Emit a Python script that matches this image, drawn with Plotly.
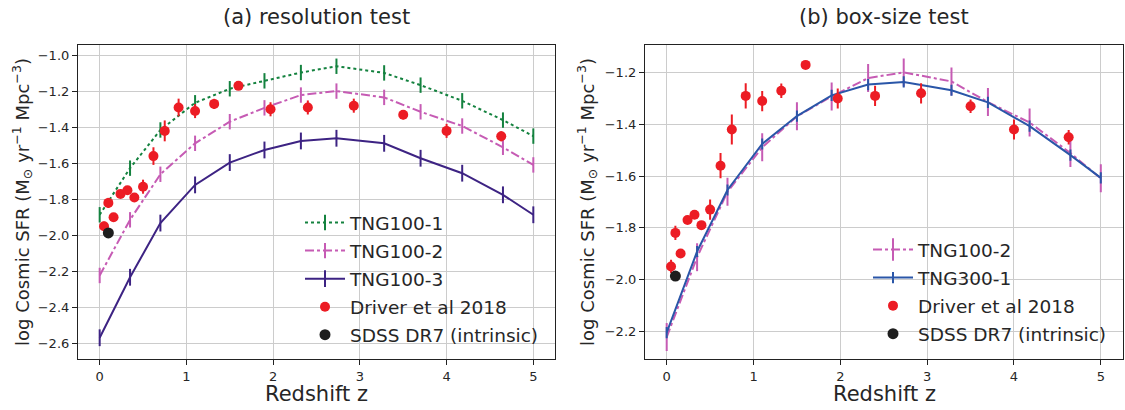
import plotly.graph_objects as go

# redshifts of the simulation snapshots
z_sim = [0.0, 0.35, 0.70, 1.10, 1.50, 1.90, 2.32, 2.73, 3.28, 3.70, 4.18, 4.65, 5.0]

tng100_1 = [-1.886, -1.627, -1.415, -1.264, -1.186, -1.142, -1.096, -1.061, -1.098, -1.166, -1.253, -1.360, -1.449]
tng100_2 = [-2.223, -1.914, -1.661, -1.489, -1.369, -1.292, -1.221, -1.199, -1.234, -1.314, -1.393, -1.511, -1.609]
tng100_3 = [-2.569, -2.233, -1.932, -1.720, -1.596, -1.526, -1.476, -1.461, -1.489, -1.572, -1.655, -1.775, -1.886]
tng300_1 = [-2.206, -1.892, -1.654, -1.476, -1.368, -1.288, -1.246, -1.236, -1.268, -1.315, -1.407, -1.519, -1.607]

# observations
z_driver = [0.05, 0.10, 0.16, 0.24, 0.32, 0.40, 0.50, 0.62, 0.75, 0.91, 1.10, 1.32, 1.60, 1.97, 2.40, 2.93, 3.50, 4.00, 4.63]
sfr_driver = [-1.95, -1.82, -1.90, -1.77, -1.75, -1.79, -1.73, -1.56, -1.42, -1.29, -1.31, -1.27, -1.17, -1.30, -1.29, -1.28, -1.33, -1.42, -1.45]
err_driver = [0.026, 0.028, 0.01, 0.01, 0.01, 0.01, 0.039, 0.049, 0.058, 0.049, 0.039, 0.028, 0.013, 0.039, 0.039, 0.039, 0.026, 0.039, 0.028]

z_sdss = [0.1]
sfr_sdss = [-1.987]
err_sdss = [0.012]

GREEN = '#14823f'
MAGENTA = '#c65bb4'
PURPLE = '#3d2383'
BLUE = '#2a56a8'
RED = '#ec1c24'
BLACK = '#1e1e1e'
FONT = 'DejaVu Sans'
W, H = 1125, 410

fig = go.Figure()


def sim(x, y, name, color, dash, tick, xa, ya, leg):
    fig.add_trace(go.Scatter(
        x=x, y=y, name=name, mode='lines+markers',
        line=dict(color=color, width=2, dash=dash),
        marker=dict(symbol='line-ns-open', size=tick, color=color, line=dict(width=2, color=color)),
        xaxis=xa, yaxis=ya, legend=leg, legendgroup=name + leg))


def obs(xa, ya, leg):
    fig.add_trace(go.Scatter(
        x=z_driver, y=sfr_driver, name='Driver et al 2018', mode='markers',
        marker=dict(color=RED, size=10),
        error_y=dict(type='data', array=err_driver, color=RED, thickness=2, width=0),
        xaxis=xa, yaxis=ya, legend=leg, legendgroup='d' + leg))
    fig.add_trace(go.Scatter(
        x=z_sdss, y=sfr_sdss, name='SDSS DR7 (intrinsic)', mode='markers',
        marker=dict(color=BLACK, size=11),
        error_y=dict(type='data', array=err_sdss, color=BLACK, thickness=2, width=0),
        xaxis=xa, yaxis=ya, legend=leg, legendgroup='s' + leg))


# (a) resolution test
sim(z_sim, tng100_1, 'TNG100-1', GREEN, 'dot', 11, 'x', 'y', 'legend')
sim(z_sim, tng100_2, 'TNG100-2', MAGENTA, 'dashdot', 11, 'x', 'y', 'legend')
sim(z_sim, tng100_3, 'TNG100-3', PURPLE, 'solid', 12, 'x', 'y', 'legend')
obs('x', 'y', 'legend')

# (b) box-size test
sim(z_sim, tng100_2, 'TNG100-2', MAGENTA, 'dashdot', 20, 'x2', 'y2', 'legend2')
sim(z_sim, tng300_1, 'TNG300-1', BLUE, 'solid', 8, 'x2', 'y2', 'legend2')
obs('x2', 'y2', 'legend2')

ax = dict(showgrid=True, gridcolor='#cccccc', gridwidth=1, zeroline=False,
          showline=True, linecolor='#222222', linewidth=1.2, mirror=True,
          ticks='outside', ticklen=5, tickcolor='#222222',
          tickfont=dict(family=FONT, size=13, color='#262626'))

xr = [-0.25, 5.25]
yb = 1 - 359 / H
yt = 1 - 45 / H

leg = dict(xanchor='left', yanchor='top', bgcolor='rgba(255,255,255,0)',
           font=dict(family=FONT, size=18.5, color='#262626'), itemwidth=40,
           traceorder='grouped', tracegroupgap=1)

fig.update_layout(
    width=W, height=H, margin=dict(l=0, r=0, t=0, b=0),
    paper_bgcolor='white', plot_bgcolor='white',
    font=dict(family=FONT, color='#262626'),
    xaxis=dict(ax, domain=[78 / W, 555 / W], range=xr, dtick=1, anchor='y'),
    yaxis=dict(ax, domain=[yb, yt], range=[-2.687, -0.943], dtick=0.2, tickformat='.1f', anchor='x'),
    xaxis2=dict(ax, domain=[645 / W, 1122.5 / W], range=xr, dtick=1, anchor='y2'),
    yaxis2=dict(ax, domain=[yb, yt], range=[-2.308, -1.093], dtick=0.2, tickformat='.1f', anchor='x2'),
    legend=dict(leg, x=300 / W, y=1 - 204 / H),
    legend2=dict(leg, x=868 / W, y=1 - 231 / H),
)

ylabel = 'log Cosmic SFR (M<sub>⊙</sub> yr<sup>−1</sup> Mpc<sup>−3</sup>)'
notes = [
    dict(text='(a) resolution test', x=316.5 / W, y=1 - 17 / H, size=21, angle=0),
    dict(text='(b) box-size test', x=884 / W, y=1 - 17 / H, size=21, angle=0),
    dict(text='Redshift z', x=316.5 / W, y=1 - 394 / H, size=21, angle=0),
    dict(text='Redshift z', x=884 / W, y=1 - 394 / H, size=21, angle=0),
    dict(text=ylabel, x=22 / W, y=1 - 202 / H, size=18, angle=-90),
    dict(text=ylabel, x=587 / W, y=1 - 202 / H, size=18, angle=-90),
]
for n in notes:
    fig.add_annotation(text=n['text'], x=n['x'], y=n['y'], xref='paper', yref='paper',
                       xanchor='center', yanchor='middle', showarrow=False, textangle=n['angle'],
                       font=dict(family=FONT, size=n['size'], color='#262626'))

# drop the default page margin so the figure sits at the window's corner
fig.write_html("out.html", config={'displayModeBar': False},
               post_script="document.body.style.margin='0';")
